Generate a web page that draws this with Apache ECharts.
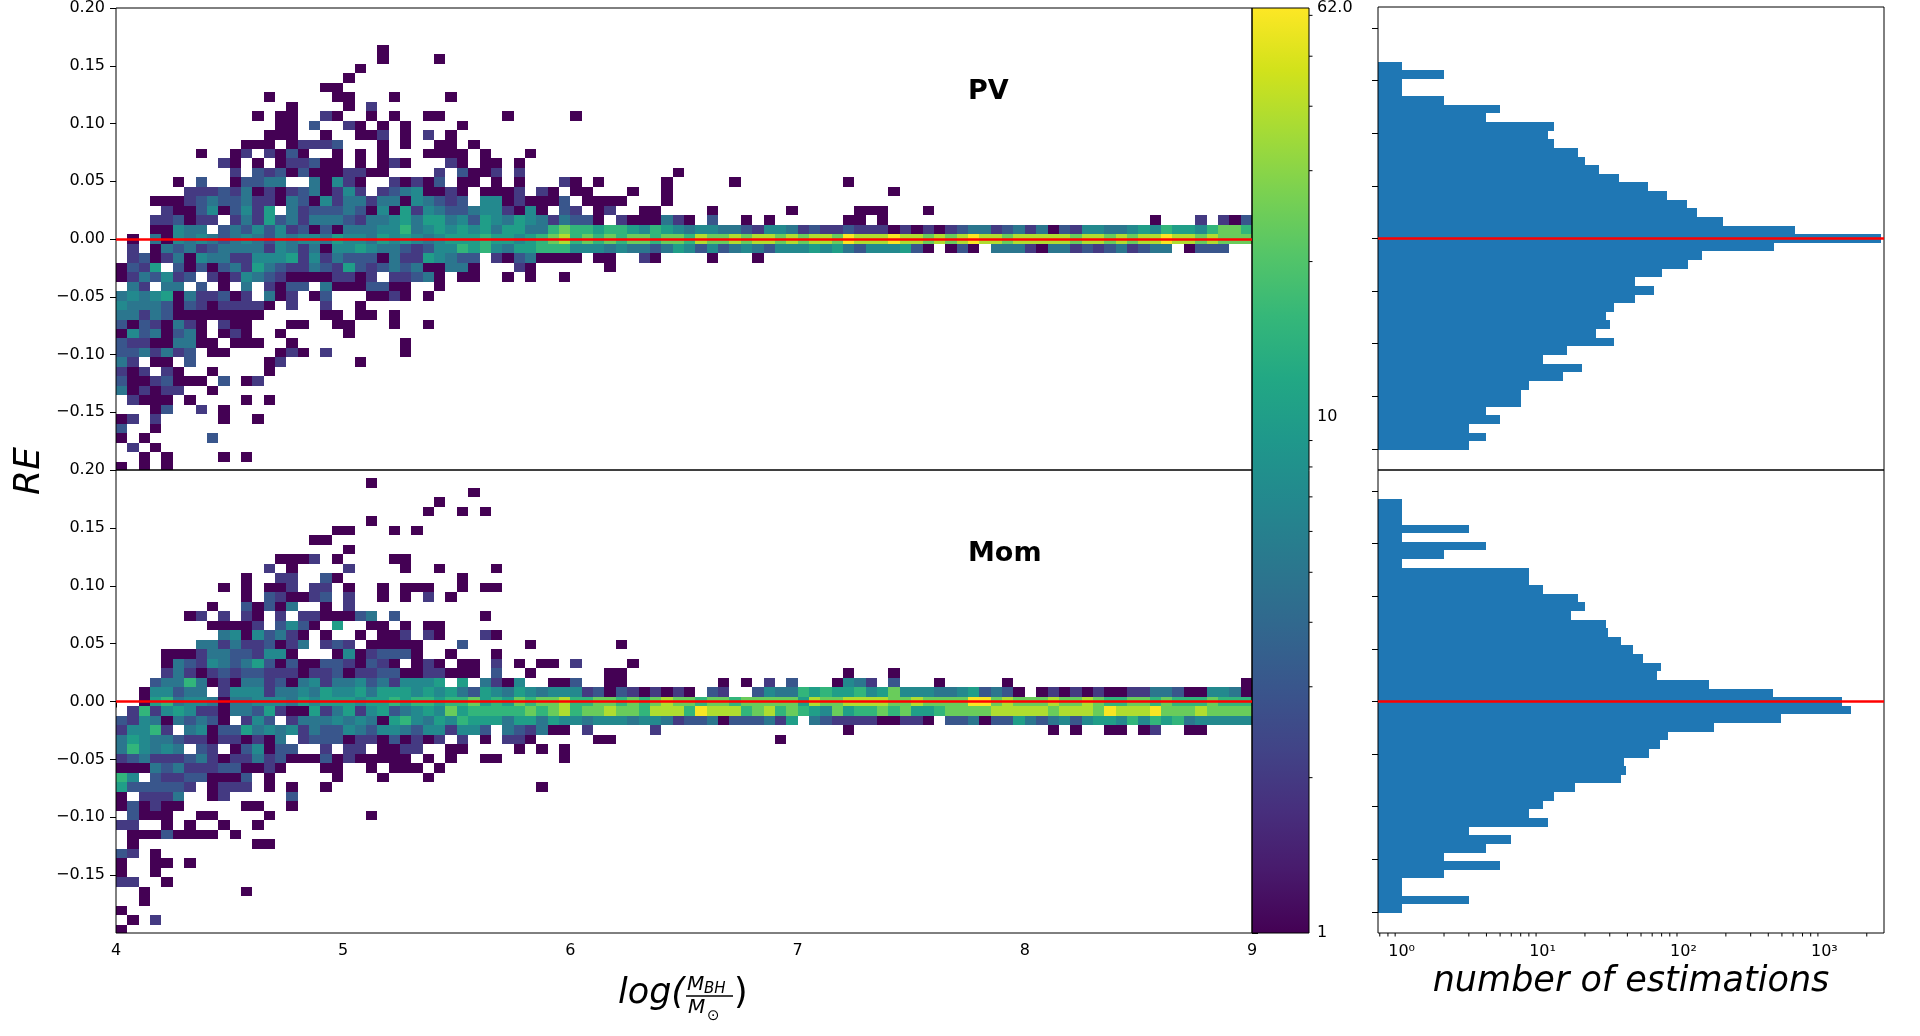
<!DOCTYPE html>
<html>
<head>
<meta charset="utf-8">
<title>RE vs log(M_BH/M_sun)</title>
<script src="https://cdn.jsdelivr.net/npm/echarts@6.0.0/dist/echarts.min.js"></script>
<style>
  html, body { margin: 0; padding: 0; background: #fff; }
  #main { width: 1920px; height: 1036px; }
</style>
</head>
<body>
<div id="main"></div>
<script>
// count level of a cell, one character per column ('.' = empty)
var levelCodes = '.123456789a';
var levelCounts = [0, 1, 2, 3, 5, 7, 10, 15, 24, 38, 60];

// bins: 100 columns of 0.05 from 4 to 9, RE rows of 0.0082 centred on k*0.0082
var xStart = 4;
var xBinWidth = 0.05;
var reBinWidth = 0.0082;

// PV panel, first string is row k = 20, then going down
var pvFirstRow = 20;
var pvRows = [
  ".......... .......... ...1",
  ".......... .......... ...1....1",
  ".......... .......... .1",
  ".......... .......... 1",
  ".......... ........11",
  ".......... ...1.....1 1...1....1",
  ".......... .....1.... 1.2",
  ".......... ..1.11..21 ..1.1..11. ....1..... 1",
  ".......... ....11.3.. 21.1.1.... 1",
  ".......... ...111..1. .112.1.2.1",
  ".......... .111.12223 ...1.1..11 .1",
  ".......1.. 12.2131..1 .1.1...111 1.1...1",
  ".........2 1.1.122311 .1.121...2 1.11.1",
  ".......... 2.32313111 2211....2. 3112.2.... .........1",
  ".....1.3.. 13344..415 21..21213. 11.1.1...2 1.1.....1. ....1..... ....1",
  "......2223 2412123412 52.2345112 1.1112.21. 11...1..1. .......... ........1",
  "...1112343 3422143152 4424415432 3.55121113 .1111...1",
  "....211351 3526.42333 4315162543 34552151.3 2.12..11.. ..1......1 .....111.. .1",
  "...223122. 2426342444 3244564664 5365465424 331.211142 1.3..1.1.. ....11.1.. .......... .......... .1...2.213",
  "...11544.3 4353523131 4445574565 6564664478 7767765765 4554432554 2322322212 1212344234 2413255445 6576657887",
  ".1.4154543 4543545546 5546565456 6676656789 7878788788 7988989989 8998a999a9 98989a9989 9999899898 99a9989888",
  ".2.1434234 4442542415 5654432355 7675466777 5554544346 5353454355 5656435556 31.131.444 2144232342 344.1333..",
  ".231241544 2255562524 3331422654 33.2134111 1.11..21.. ..1...1",
  "1326.31313 4264322432 6323434114 41...21... ...1",
  "1243523.21 2543211112 212.22341. 11..1.1..1",
  ".42.44.3.1 .4.2133.41 113311..1",
  "4545614223 12.412.13. ..1121.1",
  "5444313212 2221.2..2. .1",
  "4424311111 111.....11 .11.1",
  "31321421.2 11...11..1 1...1..1",
  "15341341.1 21..1..... 1",
  "322114411. 111..1.... .....1",
  "3342423.11 ....121.2. .....1",
  "42.11.3... ...12..... .1",
  "212.21..1. ...1",
  "31123111.3 .12",
  "412122..1",
  ".2111.1... .1.1",
  "...13..2.1",
  "12.2.....1 ..1",
  "3..1",
  "1.1.....3",
  ".2.1",
  "..1.1....1 .1",
  "1.1.1"
];

// Mom panel, first string is row k = 23
var momFirstRow = 23;
var momRows = [
  ".......... .......... ..1",
  ".......... .......... .......... .1",
  ".......... .......... ........1",
  ".......... .......... .......1.. 1.1",
  ".......... .......... ..1",
  ".......... .........1 1...1.1",
  ".......... .......11",
  ".......... .......... 1",
  ".......... ....1112.1 ....11",
  ".......... ...2.1.... 2....1..1. ...1",
  ".......... .1..22..31 .......... 1",
  ".........1 .1.112.22. 1..1.111.. 1.11",
  ".......... .1.321123. 2..1.1.2.1",
  "........1. .31314..1. 2",
  "......12.2 .21.2.2211 134.3..... ..1",
  "........11 112.3531.6 ..11.1.11",
  ".........4 5153421.1. .1.112.21. ..21",
  ".......442 4223124.23 2.11111... 3.....1... ....1",
  "....111244 332551...1 5123331..1 ...1",
  "....143254 3463131133 21321.121. 11.2.1.11. 2....1",
  "....242123 2332221223 1223311221 11.3..1... ...11..... .......... ....1...1",
  "...3447412 1442314524 453425556. 6.4215..11 3..11..... ...1.1.2.3 ...1542.3. ..1.....1. .......... .........1",
  "..155344.2 5552445465 5646665656 4365465455 5231321212 1.32..3544 7676675685 5544563431 .121212112 2443115541",
  "..16745541 4455546566 6566767767 7867687889 7788787898 8788788888 6988999988 98888aa898 8898898778 8787778777",
  ".272565221 4436211624 6256345658 6777778789 7889887999 7a99978978 7658677878 6678888999 9989998a99 9a88898888",
  "3254143431 .253.24445 4541675465 7666466465 5455545542 3341333426 .432222112 21.3341336 4345356657 5767455555",
  "25572.4513 3645452433 5435543552 553.432411 .2.....2.. .......... ....1..... .......... ..1.1..11. 12..11",
  "4654432212 21214.2333 122131212. 2.1.221... ..11...... ........1",
  "475454.32. 135133..2. 22.1122..1 1....1.1.1",
  "2342223421 2242311131 211111.1.1 ..11.....1",
  "1114342223 31121...11 ..1.111.1",
  "75.3223311 13.1.....1 ...1...1",
  "6333332.12 22.1.1..1. .......... .......1",
  "1.2224..12 .....3",
  "131211.... .11..1",
  ".3111..11. ...1...... ..1",
  "22..1.1..1 ..1",
  ".11131111. 1",
  ".1........ ..11",
  "32.1",
  "1..11.1",
  "1..1",
  "22..1",
  "..1....... .1",
  "..1",
  "1",
  ".1.2",
  "1"
];

// number of estimations per RE bin, from the first row downwards
var pvHist = [1, 2, 1, 1, 2, 5, 4, 12, 11, 12, 18, 20, 25, 35, 56, 76, 106, 125, 191, 618,
  2512, 440, 136, 108, 70, 45, 62, 45, 32, 28, 30, 24, 32, 15, 10, 19, 14, 8, 7, 7, 4, 5, 3, 4, 3];
var momHist = [1, 1, 1, 3, 1, 4, 2, 1, 8, 8, 10, 18, 20, 16, 28, 29, 36, 44, 52, 69, 65, 151, 434,
  1336, 1550, 492, 164, 78, 68, 57, 38, 39, 36, 17, 12, 10, 8, 11, 3, 6, 4, 2, 5, 2, 1, 1, 3, 1];

// ticks
var reTicks = [-0.2, -0.15, -0.1, -0.05, 0, 0.05, 0.1, 0.15, 0.2];
var histMajorTicks = [1, 10, 100, 1000];
var histMinorTicks = [0.7, 0.8, 0.9, 2, 3, 4, 5, 6, 7, 8, 9, 20, 30, 40, 50, 60, 70, 80, 90,
  200, 300, 400, 500, 600, 700, 800, 900, 2000];
var cbarMinorTicks = [2, 3, 4, 5, 6, 7, 8, 9, 20, 30, 40, 50, 60];
var supLabels = { 1: '10\u2070', 10: '10\u00b9', 100: '10\u00b2', 1000: '10\u00b3' };

var cbarMin = 1, cbarMax = 62;
var histMin = 0.68, histMax = 2650;

var viridis = ['#440154', '#481a6c', '#472f7d', '#414487', '#39568c', '#31688e', '#2a788e', '#23888e',
  '#1f988b', '#22a884', '#35b779', '#54c568', '#7ad151', '#a5db36', '#d2e21b', '#fde725'];

function decodeRows(rows, firstRow) {
  var cells = [];
  rows.forEach(function (row, i) {
    var k = firstRow - i;
    row.replace(/ /g, '').split('').forEach(function (ch, col) {
      var n = levelCounts[levelCodes.indexOf(ch)];
      if (n > 0) cells.push([xStart + col * xBinWidth, k * reBinWidth, Math.log10(n), n]);
    });
  });
  return cells;
}

function histData(counts, firstRow) {
  return counts.map(function (n, i) { return [n, (firstRow - i) * reBinWidth]; });
}

function clipToGrid(shape, params) {
  var cs = params.coordSys;
  return echarts.graphic.clipRectByRect(shape, { x: cs.x, y: cs.y, width: cs.width, height: cs.height });
}

function renderCell(params, api) {
  var x0 = api.value(0), yc = api.value(1);
  var a = api.coord([x0, yc + reBinWidth / 2]);
  var b = api.coord([x0 + xBinWidth, yc - reBinWidth / 2]);
  var x = Math.round(a[0]), y = Math.round(a[1]);
  var shape = clipToGrid({ x: x, y: y, width: Math.round(b[0]) - x, height: Math.round(b[1]) - y }, params);
  if (!shape) return;
  return { type: 'rect', shape: shape, style: { fill: api.visual('color') } };
}

function renderHistBar(params, api) {
  var yc = api.value(1);
  var a = api.coord([histMin, yc + reBinWidth / 2]);
  var b = api.coord([api.value(0), yc - reBinWidth / 2]);
  var x = Math.round(a[0]), y = Math.round(a[1]);
  return {
    type: 'rect',
    shape: { x: x, y: y, width: Math.round(b[0]) - x, height: Math.round(b[1]) - y },
    style: { fill: '#1f77b4' }
  };
}

function renderColorbar(params, api) {
  var a = api.coord([0, cbarMax]);
  var b = api.coord([1, cbarMin]);
  var stops = viridis.map(function (c, i) { return { offset: i / (viridis.length - 1), color: c }; });
  return {
    type: 'rect',
    shape: { x: a[0], y: a[1], width: b[0] - a[0], height: b[1] - a[1] },
    style: { fill: new echarts.graphic.LinearGradient(0, 1, 0, 0, stops) }
  };
}

function renderCbarMinorTick(params, api) {
  var p = api.coord([1, api.value(1)]);
  return { type: 'line', shape: { x1: p[0], y1: p[1], x2: p[0] + 3.5, y2: p[1] }, style: { stroke: '#000', lineWidth: 1 } };
}

function renderHistMinorTick(params, api) {
  var p = api.coord([api.value(0), 0]);
  var yb = params.coordSys.y + params.coordSys.height;
  return { type: 'line', shape: { x1: p[0], y1: yb, x2: p[0], y2: yb + 3.5 }, style: { stroke: '#000', lineWidth: 1 } };
}

function reLabel(v) {
  return (v < -1e-9 ? '\u2212' : '') + Math.abs(v).toFixed(2);
}

var tickStyle = { show: true, length: 6, lineStyle: { color: '#000', width: 1 } };
var labelStyle = { color: '#000', fontSize: 16, fontFamily: 'DejaVu Sans' };
var zeroLine = {
  silent: true, symbol: 'none', animation: false,
  label: { show: false },
  lineStyle: { color: '#ff0000', width: 2.5, type: 'solid' },
  data: [{ yAxis: 0 }]
};
var box = { show: true, borderColor: '#000', borderWidth: 1, backgroundColor: 'transparent', z: 3 };

function heatY(gridIndex) {
  return {
    gridIndex: gridIndex, type: 'value', min: -0.2, max: 0.2, interval: 0.05,
    axisLine: { show: false }, splitLine: { show: false }, axisTick: tickStyle,
    axisLabel: Object.assign({ margin: 11, showMinLabel: false, formatter: reLabel }, labelStyle)
  };
}
function histY(gridIndex) {
  return {
    gridIndex: gridIndex, type: 'value', min: -0.22, max: 0.22,
    axisLine: { show: false }, splitLine: { show: false },
    axisTick: Object.assign({ customValues: reTicks }, tickStyle),
    axisLabel: { show: false }
  };
}

var chart = echarts.init(document.getElementById('main'));
chart.setOption({
  animation: false,
  backgroundColor: '#fff',
  textStyle: { fontFamily: 'DejaVu Sans' },
  grid: [
    Object.assign({ left: 116, top: 7, width: 1136, height: 463 }, box),
    Object.assign({ left: 116, top: 470, width: 1136, height: 463 }, box),
    Object.assign({ left: 1252, top: 7, width: 57, height: 926 }, box),
    Object.assign({ left: 1378, top: 7, width: 506, height: 463 }, box),
    Object.assign({ left: 1378, top: 470, width: 506, height: 463 }, box)
  ],
  xAxis: [
    { gridIndex: 0, type: 'value', min: 4, max: 9, show: false },
    {
      gridIndex: 1, type: 'value', min: 4, max: 9, interval: 1,
      axisLine: { show: false }, splitLine: { show: false }, axisTick: tickStyle,
      axisLabel: Object.assign({ margin: 10 }, labelStyle)
    },
    { gridIndex: 2, type: 'value', min: 0, max: 1, show: false },
    { gridIndex: 3, type: 'log', logBase: 10, min: histMin, max: histMax, show: false },
    {
      gridIndex: 4, type: 'log', logBase: 10, min: histMin, max: histMax,
      axisLine: { show: false }, splitLine: { show: false },
      axisTick: Object.assign({ customValues: histMajorTicks }, tickStyle),
      axisLabel: Object.assign({
        margin: 11, customValues: histMajorTicks,
        formatter: function (v) { return supLabels[Math.round(v)] || ''; }
      }, labelStyle)
    }
  ],
  yAxis: [
    heatY(0),
    heatY(1),
    {
      gridIndex: 2, type: 'log', logBase: 10, min: cbarMin, max: cbarMax, position: 'right',
      axisLine: { show: false }, splitLine: { show: false }, axisTick: tickStyle,
      axisLabel: Object.assign({
        margin: 8,
        formatter: function (v) { return v > 50 ? '62.0' : String(Math.round(v)); }
      }, labelStyle)
    },
    histY(3),
    histY(4)
  ],
  visualMap: {
    type: 'continuous', show: false, seriesIndex: [0, 1], dimension: 2,
    min: 0, max: Math.log10(cbarMax), inRange: { color: viridis }
  },
  series: [
    {
      type: 'custom', name: 'PV', xAxisIndex: 0, yAxisIndex: 0, silent: true,
      renderItem: renderCell, encode: { x: 0, y: 1 }, data: decodeRows(pvRows, pvFirstRow),
      markLine: zeroLine
    },
    {
      type: 'custom', name: 'Mom', xAxisIndex: 1, yAxisIndex: 1, silent: true,
      renderItem: renderCell, encode: { x: 0, y: 1 }, data: decodeRows(momRows, momFirstRow),
      markLine: zeroLine
    },
    {
      type: 'custom', xAxisIndex: 2, yAxisIndex: 2, silent: true,
      renderItem: renderColorbar, encode: { x: 0, y: 1 }, data: [[0, cbarMin]]
    },
    {
      type: 'custom', xAxisIndex: 2, yAxisIndex: 2, silent: true,
      renderItem: renderCbarMinorTick, encode: { x: 0, y: 1 },
      data: cbarMinorTicks.map(function (v) { return [1, v]; })
    },
    {
      type: 'custom', xAxisIndex: 3, yAxisIndex: 3, silent: true,
      renderItem: renderHistBar, encode: { x: 0, y: 1 }, data: histData(pvHist, pvFirstRow),
      markLine: zeroLine
    },
    {
      type: 'custom', xAxisIndex: 4, yAxisIndex: 4, silent: true,
      renderItem: renderHistBar, encode: { x: 0, y: 1 }, data: histData(momHist, momFirstRow),
      markLine: zeroLine
    },
    {
      type: 'custom', xAxisIndex: 4, yAxisIndex: 4, silent: true,
      renderItem: renderHistMinorTick, encode: { x: 0, y: 1 },
      data: histMinorTicks.map(function (v) { return [v, 0]; })
    }
  ],
  graphic: [
    { type: 'text', x: 30, y: 471, rotation: Math.PI / 2,
      style: { text: 'RE', fontSize: 36, fontStyle: 'italic', fontFamily: 'DejaVu Sans', fill: '#000', align: 'center', verticalAlign: 'middle' } },
    { type: 'text', x: 1631, y: 982,
      style: { text: 'number of estimations', fontSize: 35, fontStyle: 'italic', fontFamily: 'DejaVu Sans', fill: '#000', align: 'center', verticalAlign: 'middle' } },
    { type: 'text', x: 968, y: 92,
      style: { text: 'PV', fontSize: 27, fontWeight: 'bold', fontFamily: 'DejaVu Sans', fill: '#000', align: 'left', verticalAlign: 'middle' } },
    { type: 'text', x: 968, y: 554,
      style: { text: 'Mom', fontSize: 27, fontWeight: 'bold', fontFamily: 'DejaVu Sans', fill: '#000', align: 'left', verticalAlign: 'middle' } },
    // log(M_BH / M_sun) written as a small fraction
    { type: 'text', x: 685, y: 994,
      style: { text: 'log(', fontSize: 35, fontStyle: 'italic', fontFamily: 'DejaVu Sans', fill: '#000', align: 'right', verticalAlign: 'middle' } },
    { type: 'text', x: 687, y: 985,
      style: { text: 'M', fontSize: 20, fontStyle: 'italic', fontFamily: 'DejaVu Sans', fill: '#000', align: 'left', verticalAlign: 'middle' } },
    { type: 'text', x: 704, y: 989,
      style: { text: 'BH', fontSize: 15, fontStyle: 'italic', fontFamily: 'DejaVu Sans', fill: '#000', align: 'left', verticalAlign: 'middle' } },
    { type: 'line', shape: { x1: 686, y1: 996, x2: 733, y2: 996 }, style: { stroke: '#000', lineWidth: 1.3 } },
    { type: 'text', x: 688, y: 1008,
      style: { text: 'M', fontSize: 20, fontStyle: 'italic', fontFamily: 'DejaVu Sans', fill: '#000', align: 'left', verticalAlign: 'middle' } },
    { type: 'text', x: 707, y: 1016,
      style: { text: '\u2299', fontSize: 15, fontFamily: 'DejaVu Sans', fill: '#000', align: 'left', verticalAlign: 'middle' } },
    { type: 'text', x: 734, y: 994,
      style: { text: ')', fontSize: 35, fontFamily: 'DejaVu Sans', fill: '#000', align: 'left', verticalAlign: 'middle' } }
  ]
});
</script>
</body>
</html>
